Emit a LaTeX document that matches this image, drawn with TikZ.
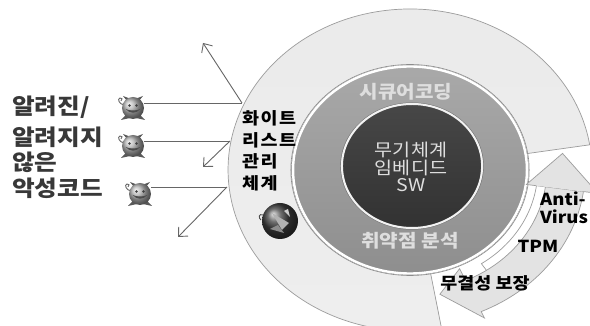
\documentclass[tikz,border=0pt]{standalone}
\usepackage{fontspec}
\setmainfont{Noto Sans CJK KR}
\usetikzlibrary{arrows.meta}

\definecolor{bandfill}{HTML}{EEEEEE}
\definecolor{bandline}{HTML}{9C9C9C}
\definecolor{ringtop}{HTML}{A9A9A9}
\definecolor{ringbot}{HTML}{8E8E8E}
\definecolor{coretop}{HTML}{474747}
\definecolor{corebot}{HTML}{323232}
\definecolor{lighttext}{HTML}{DEDEDE}
\definecolor{darktext}{HTML}{383838}
\definecolor{arrowfill}{HTML}{E3E3E3}

\tikzset{
  txt/.style={inner sep=0pt, xscale=1.12},
  bigtxt/.style={txt, anchor=west, text=darktext, font=\fontsize{22}{24}\selectfont\bfseries},
  wltxt/.style={txt, anchor=west, text=black, font=\fontsize{16.5}{18}\selectfont\bfseries\addfontfeature{LetterSpace=8}},
  ringtxt/.style={txt, text=lighttext, font=\fontsize{18}{19}\selectfont\bfseries},
  coretxt/.style={txt, text=lighttext, align=center, font=\fontsize{17.5}{17.5}\selectfont},
  sidetxt/.style={txt, text=black, align=center, font=\fontsize{16.5}{18}\selectfont\bfseries},
  hitline/.style={draw=black!60, line width=0.8pt},
  deflect/.style={draw=black!60, line width=0.9pt, -{Straight Barb[length=7pt,width=13pt,line width=0.9pt]}},
  anchorpt/.style={circle, inner sep=0pt, minimum size=22pt},
  devil/.pic={
    % curly tail
    \draw[black!60, line width=0.9pt] (-9,3) .. controls (-14,4) and (-16,9) .. (-13,10)
         .. controls (-11,11) and (-10,8) .. (-12,7);
    % horns and feet
    \fill[black!65] (-6,7) -- (-10,12) -- (-2,9) -- cycle;
    \fill[black!65] (6,7) -- (10,12) -- (2,9) -- cycle;
    \fill[black!65] (-7,-7) -- (-12,-12) -- (-3,-10) -- cycle;
    \fill[black!65] (7,-7) -- (12,-12) -- (3,-10) -- cycle;
    % body
    \shade[ball color=black!30] (0,0) circle (11);
    % face
    \fill[black!70] (-7.5,-1) .. controls (-3,-6) and (3,-6) .. (7.5,-1)
         .. controls (3,-3) and (-3,-3) .. cycle;
    \fill[black!75] (-3.5,2.5) circle (1.4) (3.5,2.5) circle (1.4);
  },
  blocker/.pic={
    \draw[black!70, line width=0.9pt] (-17,6) .. controls (-21,8) and (-22,3) .. (-19,1);
    \shade[ball color=black!75] (0,0) circle (18);
    \fill[black!30] (-8,8) -- (9,-2) -- (2,-9) -- cycle;
    \fill[black!45] (-10,-8) -- (4,-12) -- (-2,-4) -- cycle;
    \fill[black!20] (4,10) -- (10,4) -- (8,12) -- cycle;
  }
}

\begin{document}
\begin{tikzpicture}[x=1pt,y=1pt]
\useasboundingbox (0,0) rectangle (590,326);
\fill[white] (0,0) rectangle (590,326);

% ---- concentric layers (elliptical: stretched horizontally) ----
\begin{scope}[shift={(410,156)}, xscale=1.13]
  % outer band: whitelist management
  \draw[draw=bandline, line width=0.7pt, top color=white!92!black, bottom color=bandfill]
    (9:161) arc[start angle=9, end angle=280, radius=161]
    -- (280:104) arc[start angle=280, end angle=9, radius=104] -- cycle;
  % middle ring: secure coding / vulnerability analysis
  \shade[top color=ringtop, bottom color=ringbot] (0,0) circle (105);
  \draw[black!45, line width=0.6pt] (0,0) circle (105.5);
  \draw[white, line width=2.4pt] (0,0) circle (103.5);
  % core disc
  \shade[top color=coretop, bottom color=corebot] (1.8,4) circle (62);
  \draw[black!55, line width=0.6pt] (1.8,4) circle (63.2);
  \draw[white!95!black, line width=2pt] (1.8,4) circle (62);

  % upward circular arrow (body)
  \draw[draw=bandline, line width=0.7pt, fill=white]
    (-56:113) arc[start angle=-56, end angle=-8, radius=113]
    -- (-8:150) arc[start angle=-8, end angle=-56, radius=150] -- cycle;
  % downward circular arrow
  \draw[draw=bandline, line width=0.7pt, fill=arrowfill]
    (-8:121) arc[start angle=-8, end angle=-66, radius=121]
    -- (-66:108) -- (-78:127) -- (-66:162)
    -- (-66:155) arc[start angle=-66, end angle=-8, radius=155] -- cycle;
  % upward circular arrow (head)
  \fill[arrowfill] (-8:104) -- (7:136) -- (-8:168) -- cycle;
  \draw[draw=bandline, line width=0.7pt]
    (-8:113) -- (-8:104) -- (7:136) -- (-8:168) -- (-8:155);
\end{scope}

% ---- labels on the layers ----
\node[ringtxt] (sc) at (406,234) {시큐어코딩};
\node[ringtxt] (va) at (410,85) {취약점 분석};
\node[coretxt] (core) at (411,159) {무기체계\\임베디드\\SW};

\node[wltxt] (w1) at (242,208) {화이트};
\node[wltxt] (w2) at (242,186) {리스트};
\node[wltxt] (w3) at (242,165) {관리};
\node[wltxt] (w4) at (242,143) {체계};

\node[sidetxt] (av1) at (563,127) {Anti-};
\node[sidetxt] (av2) at (564,109) {Virus};
\node[sidetxt] (tpm) at (538,80) {TPM};
\node[sidetxt] (ig) at (485,43) {무결성 보장};

% whitelist blocker icon
\node[anchorpt, minimum size=36pt] (blk) at (280,105) {};
\pic at (blk) {blocker};

% ---- malicious code on the left ----
\node[bigtxt] (m1) at (12,219) {알려진/};
\node[bigtxt] (m2) at (12,189) {알려지지};
\node[bigtxt] (m3) at (12,164) {않은};
\node[bigtxt] (m4) at (12,138) {악성코드};

\node[anchorpt] (d1) at (133,218) {};
\node[anchorpt] (d2) at (133,180) {};
\node[anchorpt] (d3) at (140,132) {};
\pic at (d1) {devil};
\pic at (d2) {devil};
\pic at (d3) {devil};

% impact points on the outer band and deflected directions
\coordinate (h1) at (242,223);
\coordinate (h2) at (230,185);
\coordinate (h3) at (227,139);
\coordinate (t1) at (203,283);
\coordinate (t2) at (203,159);
\coordinate (t3) at (178,89);

\draw[hitline] (d1.east |- h1) -- (h1);
\draw[hitline] (d2.east |- h2) -- (h2);
\draw[hitline] (d3.east |- h3) -- (h3);
\draw[deflect] (h1) -- (t1);
\draw[deflect] (h2) -- (t2);
\draw[deflect] (h3) -- (t3);
\end{tikzpicture}
\end{document}
